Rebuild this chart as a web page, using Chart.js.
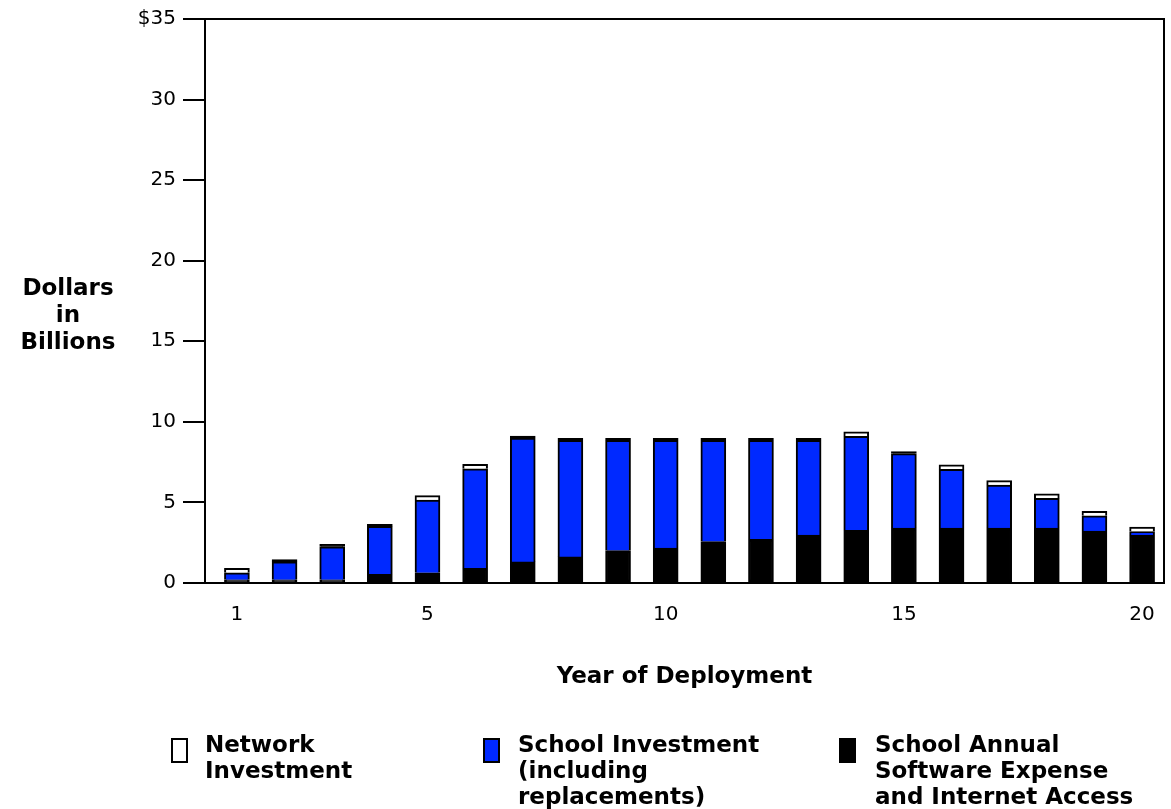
<!DOCTYPE html>
<html>
<head>
<meta charset="utf-8">
<script src="https://cdn.jsdelivr.net/npm/chart.js@4"></script>
<style>
  html, body { margin: 0; padding: 0; background: #fff; }
  #wrap { position: relative; width: 1171px; height: 809px; }
  #wrap canvas { position: absolute; left: 0; top: 0; }
  .lbl { position: absolute; font-family: 'DejaVu Sans', sans-serif; font-weight: bold; font-size: 23px; line-height: 26px; color: #000; }
  .ytitle { left: 10px; top: 274px; width: 116px; text-align: center; line-height: 27px; }
  .swatch { position: absolute; top: 738px; width: 17px; height: 25px; box-sizing: border-box; border: 2px solid #000; }
</style>
</head>
<body>
<div id="wrap">
  <canvas id="chart" width="1171" height="809"></canvas>
  <div class="lbl ytitle">Dollars<br>in<br>Billions</div>

  <div class="swatch" style="left:171px;background:#fff"></div>
  <div class="lbl" style="left:205px;top:731px">Network<br>Investment</div>

  <div class="swatch" style="left:483px;background:#0029ff"></div>
  <div class="lbl" style="left:518px;top:731px">School Investment<br>(including<br>replacements)</div>

  <div class="swatch" style="left:839px;background:#000"></div>
  <div class="lbl" style="left:875px;top:731px">School Annual<br>Software Expense<br>and Internet Access</div>
</div>
<script>
  // values, $ billions per year of deployment
  const years = [1, 2, 3, 4, 5, 6, 7, 8, 9, 10, 11, 12, 13, 14, 15, 16, 17, 18, 19, 20];
  const software = [0.2, 0.2, 0.2, 0.54, 0.63, 0.91, 1.31, 1.62, 2.01, 2.16, 2.57, 2.71, 2.98, 3.27, 3.41, 3.41, 3.41, 3.41, 3.22, 2.96];
  const school = [0.43, 1.11, 2.05, 2.98, 4.51, 6.18, 7.69, 7.24, 6.85, 6.70, 6.29, 6.15, 5.88, 5.83, 4.62, 3.64, 2.66, 1.84, 0.95, 0.23];
  const network = [0.28, 0.15, 0.15, 0.12, 0.28, 0.28, 0.12, 0.12, 0.12, 0.12, 0.12, 0.12, 0.12, 0.28, 0.12, 0.28, 0.28, 0.28, 0.28, 0.28];

  const yTickValues = [0, 5, 10, 15, 20, 25, 30, 35];
  const yTickLabels = ['0', '5', '10', '15', '20', '25', '30', '$35'];
  const xTickValues = [1, 5, 10, 15, 20];
  const xTickLabels = ['1', '5', '10', '15', '20'];

  const points = (arr) => arr.map((v, i) => ({ x: years[i], y: v }));

  // very thin network slices are all outline in the original, so they read as black
  const networkFill = (ctx) => (ctx.raw && ctx.raw.y < 0.2 ? '#000' : '#fff');

  const frame = {
    id: 'frame',
    afterDraw(chart) {
      const { ctx, chartArea: a } = chart;
      ctx.save();
      ctx.strokeStyle = '#000';
      ctx.lineWidth = 2;
      ctx.beginPath();
      ctx.moveTo(a.left, a.top);
      ctx.lineTo(a.right, a.top);
      ctx.lineTo(a.right, a.bottom);
      ctx.stroke();
      ctx.restore();
    }
  };

  const barBase = { barThickness: 25, borderColor: '#000', borderWidth: 2 };

  new Chart(document.getElementById('chart'), {
    type: 'bar',
    data: {
      datasets: [
        { ...barBase, label: 'School Annual Software Expense and Internet Access', data: points(software), backgroundColor: '#000', borderSkipped: false },
        { ...barBase, label: 'School Investment (including replacements)', data: points(school), backgroundColor: '#0029ff', borderSkipped: 'bottom' },
        { ...barBase, label: 'Network Investment', data: points(network), backgroundColor: networkFill, borderSkipped: 'bottom' }
      ]
    },
    options: {
      responsive: false,
      animation: false,
      layout: { padding: { top: 12, right: 7, bottom: 114, left: 0 } },
      plugins: { legend: { display: false }, tooltip: { enabled: false } },
      scales: {
        x: {
          type: 'linear',
          stacked: true,
          offset: false,
          min: 0.33,
          max: 20.46,
          afterBuildTicks: (s) => { s.ticks = xTickValues.map((v) => ({ value: v })); },
          afterFit: (s) => { s.height = 112; },
          ticks: {
            padding: 12,
            color: '#000',
            font: { family: 'DejaVu Sans', size: 20 },
            callback: (v) => xTickLabels[xTickValues.indexOf(v)]
          },
          grid: { display: false },
          border: { color: '#000', width: 2 },
          title: { display: true, text: 'Year of Deployment', color: '#000', font: { family: 'DejaVu Sans', size: 23, weight: 'bold' } }
        },
        y: {
          stacked: true,
          min: 0,
          max: 35,
          afterBuildTicks: (s) => { s.ticks = yTickValues.map((v) => ({ value: v })); },
          afterFit: (s) => { s.width = 205; },
          ticks: {
            padding: 7,
            color: '#000',
            font: { family: 'DejaVu Sans', size: 20 },
            callback: (v) => yTickLabels[yTickValues.indexOf(v)]
          },
          grid: { drawOnChartArea: false, tickLength: 22, color: '#000', lineWidth: 2 },
          border: { color: '#000', width: 2 }
        }
      }
    },
    plugins: [frame]
  });
</script>
</body>
</html>
